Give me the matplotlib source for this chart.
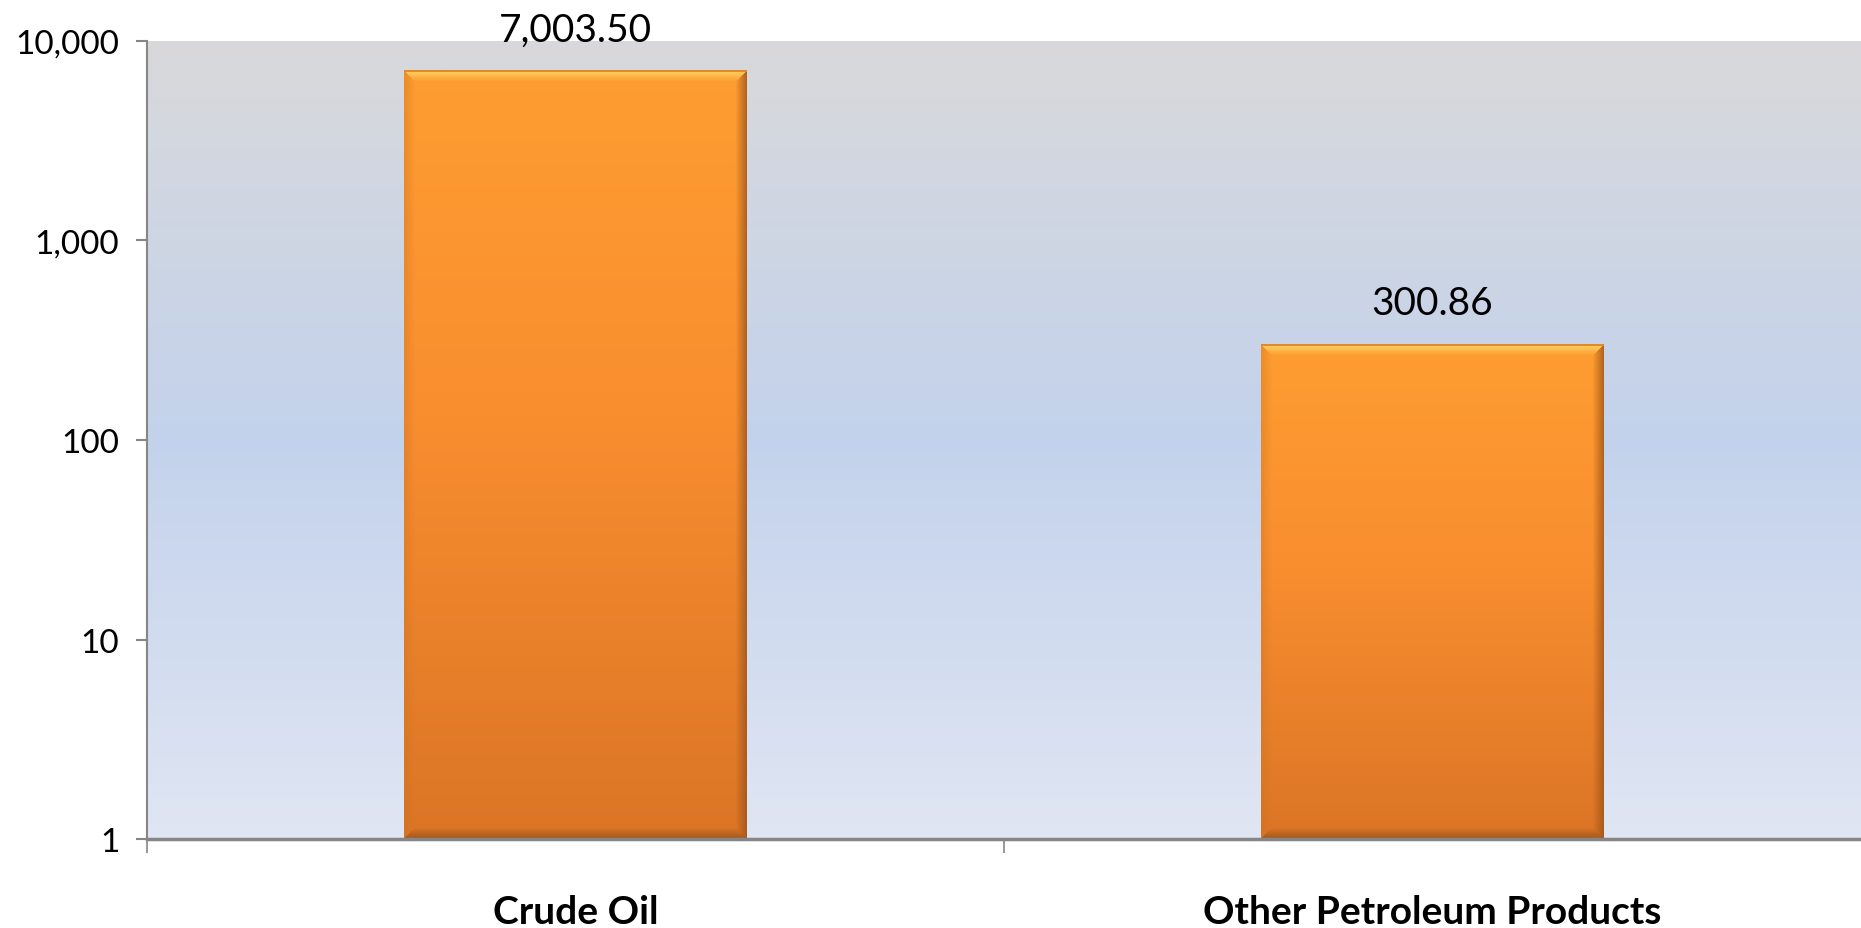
import numpy as np
import matplotlib
matplotlib.use("Agg")
import matplotlib.pyplot as plt
from matplotlib.ticker import FixedLocator, FixedFormatter, NullLocator
from matplotlib.transforms import TransformedBbox, BboxTransformTo
from matplotlib.colors import to_rgb

categories = ["Crude Oil", "Other Petroleum Products"]
values = [7003.50, 300.86]
value_labels = ["7,003.50", "300.86"]
y_ticks = [1, 10, 100, 1000, 10000]
y_tick_labels = ["1", "10", "100", "1,000", "10,000"]

plt.rcParams['font.family'] = ['Lato', 'DejaVu Sans']

W, H = 1861, 929
fig = plt.figure(figsize=(W / 100, H / 100), dpi=100)
ax = fig.add_axes([147.2 / W, 1 - 840.4 / H, 1 - 147.2 / W, (840.4 - 41.5) / H])
ax.set_yscale('log')
ax.set_ylim(1, 10000)
ax.set_xlim(-0.5, len(categories) - 0.5)

# background gradient
stops = [(0.0, '#d9d9db'), (0.5, '#c3d2ec'), (1.0, '#e0e6f3')]
n = 400
tt = np.linspace(0, 1, n)
pos = [s[0] for s in stops]
cols = np.array([to_rgb(s[1]) for s in stops])
grad = np.stack([np.interp(tt, pos, cols[:, k]) for k in range(3)], axis=1)
bg = np.repeat(grad[:, None, :], 2, axis=1)
ax.imshow(bg, extent=(0, 1, 0, 1), transform=ax.transAxes, origin='upper',
          aspect='auto', zorder=0, interpolation='bilinear')

base = 1.0
x = np.arange(len(categories))
bars = ax.bar(x, np.array(values) - base, bottom=base, width=0.4,
              facecolor='none', edgecolor='none', zorder=2)


def bar_image(hpx, wpx):
    hpx = max(int(hpx), 10)
    wpx = max(int(wpx), 10)
    r = np.arange(hpx)[:, None] * np.ones((1, wpx))
    c = np.ones((hpx, 1)) * np.arange(wpx)[None, :]
    t = r / (hpx - 1)
    vstops = [0.0, 0.45, 1.0]
    vcols = np.array([to_rgb('#fe9d31'), to_rgb('#f98e2f'), to_rgb('#db7526')])
    img = np.stack([np.interp(t, vstops, vcols[:, k]) for k in range(3)], axis=2)
    dt, db, dl, dr = r, hpx - 1 - r, c, wpx - 1 - c
    d = np.stack([dt, db, dl, dr], axis=2)
    face = np.argmin(d, axis=2)
    dmin = np.min(d, axis=2)
    bw = 11.0
    f = np.clip(1 - dmin / bw, 0, 1)
    targets = [to_rgb('#ffe070'), to_rgb('#8e4c16'), to_rgb('#c8701f'), to_rgb('#9a5218')]
    strength = [0.8, 0.7, 0.35, 0.75]
    for k in range(4):
        m = (face == k)
        a = (f * strength[k] * m)[..., None]
        img = img * (1 - a) + np.array(targets[k]) * a
    img[0:2, :, :] = np.array(to_rgb('#e08a2a'))
    return img


fig.canvas.draw()
for b in bars:
    tb = TransformedBbox(b.get_bbox(), ax.transData)
    ext = tb.frozen()
    img = bar_image(ext.height, ext.width)
    ax.imshow(img, extent=(0, 1, 0, 1), transform=BboxTransformTo(tb),
              origin='upper', aspect='auto', zorder=2, interpolation='bilinear')

for xi, v, lab in zip(x, values, value_labels):
    ax.annotate(lab, (xi, v), xytext=(0, 30), textcoords='offset points',
                ha='center', va='center', fontsize=28, color='black',
                annotation_clip=False)

# axes styling
for s in ['top', 'right']:
    ax.spines[s].set_visible(False)
ax.spines['left'].set_color('#868686')
ax.spines['left'].set_linewidth(1.5)
ax.spines['bottom'].set_color('#868686')
ax.spines['bottom'].set_linewidth(2.5)
ax.spines['bottom'].set_zorder(3)

ax.yaxis.set_major_locator(FixedLocator(y_ticks))
ax.yaxis.set_major_formatter(FixedFormatter(y_tick_labels))
ax.yaxis.set_minor_locator(NullLocator())
ax.tick_params(axis='y', which='major', length=8, width=1.5, color='#868686',
               pad=12, labelsize=24, labelcolor='black')

ax.xaxis.set_major_locator(FixedLocator(np.arange(-0.5, len(categories) - 0.5, 1.0)))
ax.xaxis.set_major_formatter(FixedFormatter([''] * len(categories)))
ax.xaxis.set_minor_locator(FixedLocator(x))
ax.xaxis.set_minor_formatter(FixedFormatter(categories))
ax.tick_params(axis='x', which='major', length=10, width=1.2, color='#868686')
ax.tick_params(axis='x', which='minor', length=0, pad=39, labelsize=28)
for lbl in ax.xaxis.get_minorticklabels():
    lbl.set_fontweight('bold')

fig.savefig('out.png', dpi=100)
